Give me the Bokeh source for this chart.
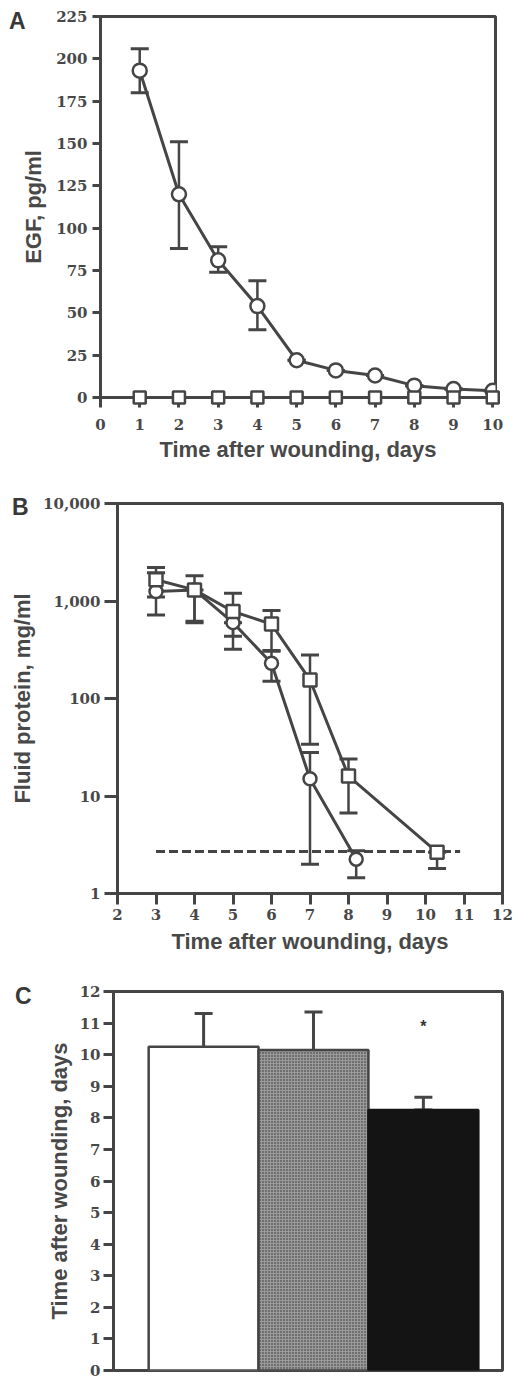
from bokeh.plotting import figure
from bokeh.models import (ColumnDataSource, Whisker, TeeHead, FixedTicker, Range1d,
                          LinearAxis, LogAxis, NumeralTickFormatter)
from bokeh.embed import file_html
from bokeh.resources import INLINE
from bokeh.core.properties import value

# ---------------- data ----------------
# Panel A: EGF in wound fluid
days_a = [1, 2, 3, 4, 5, 6, 7, 8, 9, 10]
egf_circle = [193, 120, 81, 54, 22, 16, 13, 7, 5, 4]
egf_circle_upper = [206, 151, 89, 69, 22, 16, 13, 7, 5, 4]
egf_circle_lower = [180, 88, 74, 40, 22, 16, 13, 7, 5, 4]
egf_square = [0, 0, 0, 0, 0, 0, 0, 0, 0, 0]
a_xticks = [0, 1, 2, 3, 4, 5, 6, 7, 8, 9, 10]
a_yticks = [0, 25, 50, 75, 100, 125, 150, 175, 200, 225]

# Panel B: fluid protein (log scale)
days_b_circle = [3, 4, 5, 6, 7, 8.2]
prot_circle = [1250, 1300, 600, 230, 15, 2.25]
prot_circle_upper = [1950, 1300, 600, 305, 28, 2.75]
prot_circle_lower = [720, 600, 320, 150, 2.0, 1.45]
days_b_square = [3, 4, 5, 6, 7, 8, 10.3]
prot_square = [1650, 1300, 780, 580, 155, 16, 2.65]
prot_square_upper = [2200, 1820, 1200, 800, 280, 24, 2.65]
prot_square_lower = [1100, 620, 436, 310, 34, 6.7, 1.8]
detection_days = [3, 10.9]
detection_level = [2.7, 2.7]
b_xticks = [2, 3, 4, 5, 6, 7, 8, 9, 10, 11, 12]
b_yticks = [1, 10, 100, 1000, 10000]

# Panel C: time to healing
groups = [0, 1, 2]
heal_days = [10.25, 10.15, 8.25]
heal_upper = [11.3, 11.35, 8.65]
heal_lower = [9.2, 8.95, 8.25]
sig_y = [10.9]
c_yticks = list(range(0, 13))

# ---------------- style ----------------
LINE = "#454545"
TEXT = "#484848"
SERIF = "DejaVu Serif"
SANS = "Liberation Sans"
TITLE_SIZE = "22px"
TICK_SIZE = "15px"


def style(p, xtick_out, ytick_out):
    p.outline_line_color = LINE
    p.outline_line_width = 3
    p.outline_line_alpha = 1.0
    p.grid.visible = False
    p.background_fill_color = "white"
    p.border_fill_color = "white"
    for ax, tout in ((p.xaxis[0], xtick_out), (p.yaxis[0], ytick_out)):
        ax.axis_line_color = LINE
        ax.axis_line_width = 3
        ax.major_tick_line_color = LINE
        ax.major_tick_line_width = 3
        ax.major_tick_out = tout
        ax.major_tick_in = 0
        ax.minor_tick_out = 0
        ax.minor_tick_in = 0
        ax.minor_tick_line_color = None
        ax.major_label_text_font = SERIF
        ax.major_label_text_font_style = "bold"
        ax.major_label_text_font_size = TICK_SIZE
        ax.major_label_text_color = TEXT
        ax.axis_label_text_font = SANS
        ax.axis_label_text_font_style = "bold"
        ax.axis_label_text_font_size = TITLE_SIZE
        ax.axis_label_text_color = TEXT


def panel_letter(p, txt, at, standoff, log=False):
    # the panel letter is drawn as the single label of an extra, invisible left axis
    cls = LogAxis if log else LinearAxis
    ax = cls(ticker=FixedTicker(ticks=[at], minor_ticks=[]),
             major_label_overrides={at: txt})
    ax.axis_line_color = None
    ax.major_tick_line_color = None
    ax.minor_tick_line_color = None
    ax.major_tick_out = 0
    ax.major_tick_in = 0
    ax.minor_tick_out = 0
    ax.major_label_standoff = standoff
    ax.major_label_text_font = SANS
    ax.major_label_text_font_style = "bold"
    ax.major_label_text_font_size = "23px"
    ax.major_label_text_color = "#383838"
    p.add_layout(ax, "left")


W = 513

# ---------------- Panel A ----------------
pa = figure(width=W, height=470, x_range=Range1d(0, 10.07), y_range=Range1d(0, 225),
            output_backend="svg", toolbar_location=None,
            min_border_left=100, min_border_right=18, min_border_top=16, min_border_bottom=73)
style(pa, 10, 8)
pa.xaxis.ticker = FixedTicker(ticks=a_xticks)
pa.yaxis.ticker = FixedTicker(ticks=a_yticks)
pa.xaxis.axis_label = "Time after wounding, days"
pa.yaxis.axis_label = "EGF, pg/ml"
pa.xaxis.major_label_standoff = 11
pa.yaxis.major_label_standoff = 5
pa.xaxis.axis_label_standoff = 4
pa.yaxis.axis_label_standoff = 7

src_a = ColumnDataSource(dict(x=days_a, y=egf_circle, up=egf_circle_upper, lo=egf_circle_lower))
pa.add_layout(Whisker(base="x", upper="up", lower="lo", source=src_a, line_color=LINE,
                      line_width=2.5,
                      upper_head=TeeHead(size=18, line_width=3, line_color=LINE),
                      lower_head=TeeHead(size=18, line_width=3, line_color=LINE)))
pa.line(days_a, egf_square, line_color=LINE, line_width=3)
pa.scatter(days_a, egf_square, marker="square", size=12, fill_color="white",
           line_color=LINE, line_width=2.5, level="overlay")
pa.line("x", "y", source=src_a, line_color=LINE, line_width=3)
pa.scatter("x", "y", source=src_a, marker="circle", size=14, fill_color="white",
           line_color=LINE, line_width=2.5)
panel_letter(pa, "A", 222.6, -7)

# ---------------- Panel B ----------------
pb = figure(width=W, height=488, x_range=Range1d(2, 12), y_range=Range1d(1, 10000),
            y_axis_type="log", output_backend="svg", toolbar_location=None,
            min_border_left=117, min_border_right=11, min_border_top=33, min_border_bottom=65)
style(pb, 11, 13)
pb.xaxis.ticker = FixedTicker(ticks=b_xticks)
pb.yaxis.ticker = FixedTicker(ticks=b_yticks, minor_ticks=[])
pb.yaxis.formatter = NumeralTickFormatter(format="0,0")
pb.xaxis.axis_label = "Time after wounding, days"
pb.yaxis.axis_label = "Fluid protein, mg/ml"
pb.xaxis.major_label_standoff = 4
pb.yaxis.major_label_standoff = 4
pb.xaxis.axis_label_standoff = 6
pb.yaxis.axis_label_standoff = 5

pb.line(detection_days, detection_level, line_color=LINE, line_width=3, line_dash="9 4")
src_bc = ColumnDataSource(dict(x=days_b_circle, y=prot_circle, up=prot_circle_upper, lo=prot_circle_lower))
src_bs = ColumnDataSource(dict(x=days_b_square, y=prot_square, up=prot_square_upper, lo=prot_square_lower))
for src in (src_bc, src_bs):
    pb.add_layout(Whisker(base="x", upper="up", lower="lo", source=src, line_color=LINE,
                          line_width=2.5,
                          upper_head=TeeHead(size=18, line_width=3, line_color=LINE),
                          lower_head=TeeHead(size=18, line_width=3, line_color=LINE)))
pb.line("x", "y", source=src_bc, line_color=LINE, line_width=3)
pb.line("x", "y", source=src_bs, line_color=LINE, line_width=3)
pb.scatter("x", "y", source=src_bc, marker="circle", size=13, fill_color="white",
           line_color=LINE, line_width=2.5)
pb.scatter("x", "y", source=src_bs, marker="square", size=13, fill_color="white",
           line_color=LINE, line_width=2.5)
panel_letter(pb, "B", 9300, -21, log=True)

# ---------------- Panel C ----------------
pc = figure(width=W, height=422, x_range=Range1d(-0.82, 2.72), y_range=Range1d(0, 12),
            output_backend="svg", toolbar_location=None,
            min_border_left=113, min_border_right=11, min_border_top=33, min_border_bottom=10)
style(pc, 0, 10)
pc.xaxis.visible = False
pc.yaxis.ticker = FixedTicker(ticks=c_yticks)
pc.yaxis.axis_label = "Time after wounding, days"
pc.yaxis.major_label_standoff = 3
pc.yaxis.axis_label_standoff = 5

src_c = ColumnDataSource(dict(
    x=groups, top=heal_days, up=heal_upper, lo=heal_lower,
    fill=["white", "#9a9a9a", "#141414"],
    hatch=[" ", "dot", " "],
    lc=[LINE, LINE, "#141414"],
))
pc.vbar(x="x", top="top", width=1.0, source=src_c, fill_color="fill", line_color="lc",
        line_width=2.5, hatch_pattern="hatch", hatch_color="#2e2e2e", hatch_scale=3,
        hatch_weight=1.5)
pc.add_layout(Whisker(base="x", upper="up", lower="lo", source=src_c, line_color=LINE,
                      line_width=3,
                      upper_head=TeeHead(size=18, line_width=3, line_color=LINE),
                      lower_head=TeeHead(size=18, line_width=3, line_color=LINE)))
pc.text(x=[groups[2]], y=sig_y, text=["*"], text_align="center", text_baseline="middle",
        text_font=value(SANS), text_font_style="bold", text_font_size="16px", text_color="#333")
panel_letter(pc, "C", 11.85, 12)

open("out.html", "w").write(file_html([pa, pb, pc], INLINE))
